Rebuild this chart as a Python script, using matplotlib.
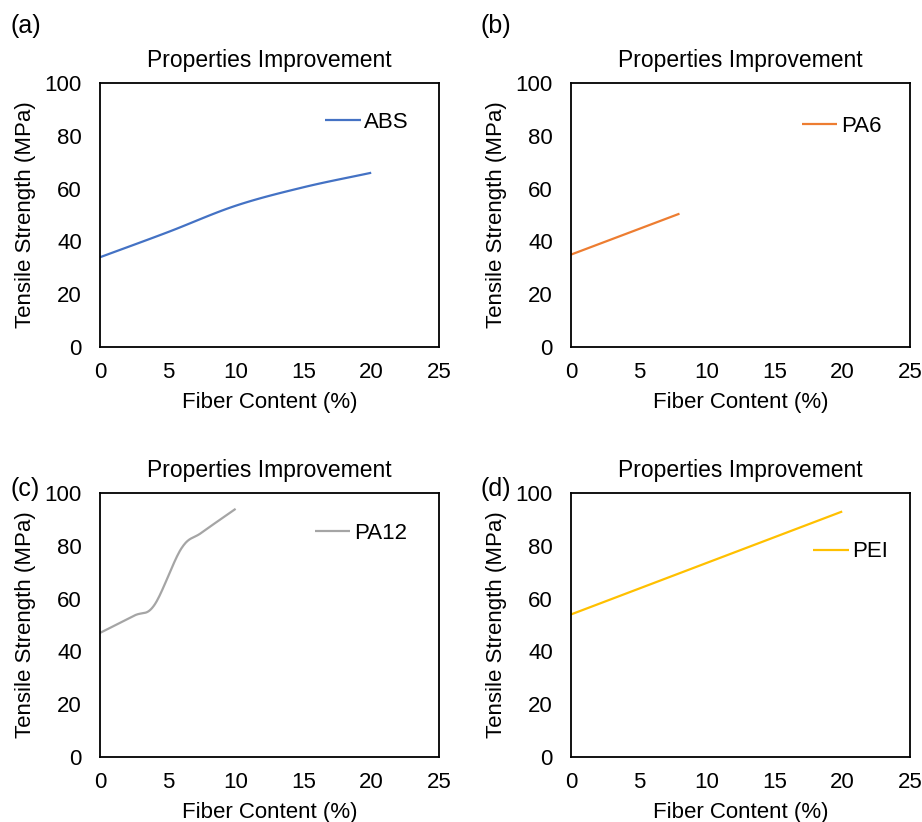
import numpy as np
import matplotlib.pyplot as plt

plt.rcParams['font.family'] = ['Liberation Sans', 'DejaVu Sans']

# data (fiber content %, tensile strength MPa)
abs_x = [0, 5, 10, 15, 20]
abs_y = [34, 43.5, 53.5, 60.5, 66]

pa6_x = [0, 8]
pa6_y = [35, 50.5]

pa12_x = [0, 2.5, 4, 6, 7.5, 10]
pa12_y = [47, 53.5, 57.5, 79, 85, 94]

pei_x = [0, 20]
pei_y = [54, 93]

x_ticks = [0, 5, 10, 15, 20, 25]
y_ticks = [0, 20, 40, 60, 80, 100]


def smooth(x, y, n=30):
    # excel-style smoothed line (catmull-rom through the points)
    x = np.asarray(x, float)
    y = np.asarray(y, float)
    if len(x) < 3:
        return x, y
    px = np.concatenate([[2 * x[0] - x[1]], x, [2 * x[-1] - x[-2]]])
    py = np.concatenate([[2 * y[0] - y[1]], y, [2 * y[-1] - y[-2]]])
    xs, ys = [], []
    t = np.linspace(0, 1, n, endpoint=False)
    for i in range(1, len(px) - 2):
        for p, out in ((px, xs), (py, ys)):
            p0, p1, p2, p3 = p[i - 1], p[i], p[i + 1], p[i + 2]
            out.extend(0.5 * ((2 * p1) + (-p0 + p2) * t
                              + (2 * p0 - 5 * p1 + 4 * p2 - p3) * t ** 2
                              + (-p0 + 3 * p1 - 3 * p2 + p3) * t ** 3))
    xs.append(x[-1])
    ys.append(y[-1])
    return np.array(xs), np.array(ys)


fig = plt.figure(figsize=(9.22, 8.22), dpi=100)

W, H = 922, 822
panels = [
    # left, top px, x, y, label, color, legend anchor, tag, tag pos
    (100, 83, abs_x, abs_y, 'ABS', '#4472C4', (0.664, 0.852), '(a)', (10, 26)),
    (571, 83, pa6_x, pa6_y, 'PA6', '#ED7D31', (0.681, 0.837), '(b)', (481, 26)),
    (100, 493, pa12_x, pa12_y, 'PA12', '#A5A5A5', (0.634, 0.848), '(c)', (10, 489)),
    (571, 493, pei_x, pei_y, 'PEI', '#FFC000', (0.714, 0.777), '(d)', (481, 489)),
]

for left, top, xs, ys, name, color, anchor, tag, tagpos in panels:
    ax = fig.add_axes([left / W, 1 - (top + 264) / H, 339 / W, 264 / H])
    sx, sy = smooth(xs, ys)
    ax.plot(sx, sy, color=color, lw=1.6, label=name, solid_capstyle='butt')
    ax.set_xlim(0, 25)
    ax.set_ylim(0, 100)
    ax.set_xticks(x_ticks)
    ax.set_yticks(y_ticks)
    ax.tick_params(length=0, labelsize=16)
    ax.tick_params(axis='x', pad=11)
    ax.tick_params(axis='y', pad=13)
    for s in ax.spines.values():
        s.set_linewidth(1.3)
    ax.set_title('Properties Improvement', fontsize=16.5, pad=11.5)
    ax.set_xlabel('Fiber Content (%)', fontsize=16, labelpad=6)
    ax.set_ylabel('Tensile Strength (MPa)', fontsize=16, labelpad=6)
    ax.legend(loc='center left', bbox_to_anchor=anchor, frameon=False,
              fontsize=16, borderpad=0, borderaxespad=0,
              handlelength=1.6, handletextpad=0.15)
    fig.text(tagpos[0] / W, 1 - tagpos[1] / H, tag, fontsize=18, va='center')

fig.savefig('out.png', dpi=100)
